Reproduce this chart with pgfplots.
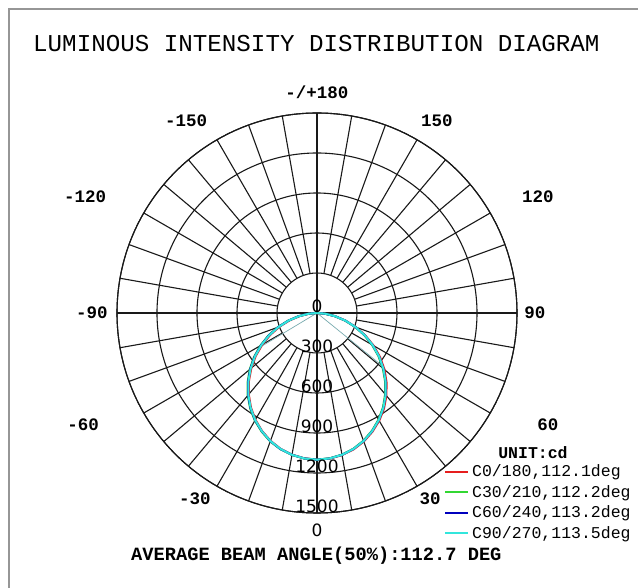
\documentclass[border=0pt]{standalone}
\usepackage{fontspec}
\setmainfont{Liberation Mono}
\setsansfont{DejaVu Sans}
\usepackage{pgfplots}
\usepgfplotslibrary{polar}
\pgfplotsset{compat=1.18}
\usepackage{pgfplotstable}
\definecolor{cR}{RGB}{230,30,30}
\definecolor{cG}{RGB}{50,215,50}
\definecolor{cB}{RGB}{0,0,190}
\definecolor{cC}{RGB}{50,230,220}
\definecolor{chord}{RGB}{120,170,175}
\definecolor{frame}{RGB}{150,150,150}

% gamma (deg, 0 = nadir)   intensity (cd)
\pgfplotstableread{
g I
-90 0
-85 56
-80 130
-75 212
-70 298
-65 386
-60 473
-55 560
-50 643
-45 722
-40 796
-35 864
-30 924
-25 976
-20 1020
-15 1055
-10 1079
-5 1094
0 1100
5 1096
10 1082
15 1059
20 1026
25 983
30 933
35 876
40 810
45 738
50 661
55 578
60 490
65 400
70 310
75 220
80 136
85 58
90 0
}\tCzero

\pgfplotstableread{
g I
-90 0
-85 63
-80 142
-75 226
-70 314
-65 403
-60 491
-55 577
-50 659
-45 736
-40 808
-35 874
-30 932
-25 982
-20 1025
-15 1058
-10 1081
-5 1096
0 1100
5 1094
10 1079
15 1054
20 1019
25 975
30 923
35 863
40 795
45 722
50 644
55 562
60 476
65 390
70 303
75 217
80 135
85 59
90 0
}\tCthirty

\pgfplotstableread{
g I
-90 0
-85 62
-80 140
-75 223
-70 311
-65 399
-60 486
-55 572
-50 654
-45 731
-40 804
-35 870
-30 929
-25 979
-20 1023
-15 1057
-10 1080
-5 1095
0 1100
5 1095
10 1080
15 1056
20 1022
25 978
30 927
35 868
40 801
45 728
50 650
55 568
60 482
65 395
70 307
75 220
80 137
85 60
90 0
}\tCsixty

\pgfplotstableread{
g I
-90 0
-85 60
-80 137
-75 220
-70 307
-65 395
-60 482
-55 568
-50 650
-45 728
-40 801
-35 868
-30 927
-25 978
-20 1022
-15 1056
-10 1080
-5 1095
0 1100
5 1095
10 1080
15 1056
20 1022
25 978
30 927
35 868
40 801
45 728
50 650
55 568
60 482
65 395
70 307
75 220
80 137
85 60
90 0
}\tCninety

\pgfplotstableread{
g I
-59 500
0 0
51 634
}\tChord

\begin{document}
\begin{tikzpicture}
\path[use as bounding box, fill=white] (0pt,0pt) rectangle (638pt,588pt);
\draw[frame, line width=1.5pt] (9pt,-2pt) -- (9pt,579pt) -- (642pt,579pt);
\node[anchor=base west, font=\fontsize{24.2}{28}\selectfont, inner sep=0pt] at (33pt,536pt) {LUMINOUS INTENSITY DISTRIBUTION DIAGRAM};

\begin{polaraxis}[
  at={(317pt,275pt)}, anchor=center,
  width=400pt, height=400pt, scale only axis,
  clip=false,
  xmin=0, xmax=360,
  ymin=0, ymax=1500,
  xtick={0,30,...,330},
  xticklabels={},
  ytick={300,600,...,1500},
  yticklabels={},
  ymajorgrids=true, xmajorgrids=false,
  major grid style={black!90, line width=1.1pt},
  axis line style={black!90, line width=1.1pt},
  major tick length=0pt,
  legend style={at={(axis description cs:0.81,0.128)}, anchor=north west,
    draw=none, fill=none, font=\fontsize{16.5}{18}\selectfont,
    row sep=5pt, nodes={inner sep=1pt}},
  legend cell align=left,
  legend image code/.code={\draw[#1, line width=2pt] (0pt,0pt) -- (23pt,0pt);},
]
\pgfplotsinvokeforeach{0,10,...,350}{
  \draw[black!90, line width=1.1pt] (axis cs:#1,300) -- (axis cs:#1,1500);
}
\draw[black!90, line width=1.1pt] (axis cs:0,1500) -- (axis cs:180,1500);
\draw[black!90, line width=1.1pt] (axis cs:90,1500) -- (axis cs:270,1500);

\addplot[chord, line width=0.7pt, forget plot] table[x expr=\thisrow{g}+270, y=I] {\tChord};
\addplot[cR, line width=2pt] table[x expr=\thisrow{g}+270, y=I] {\tCzero};
\addlegendentry{\hspace{2pt}C0/180,112.1deg}
\addplot[cG, line width=2pt] table[x expr=\thisrow{g}+270, y=I] {\tCthirty};
\addlegendentry{\hspace{2pt}C30/210,112.2deg}
\addplot[cB, line width=2pt] table[x expr=\thisrow{g}+270, y=I] {\tCsixty};
\addlegendentry{\hspace{2pt}C60/240,113.2deg}
\addplot[cC, line width=2pt] table[x expr=\thisrow{g}+270, y=I] {\tCninety};
\addlegendentry{\hspace{2pt}C90/270,113.5deg}

% radial (intensity) labels along the nadir direction
\pgfplotsinvokeforeach{0,300,600,900,1200,1500}{
  \node[font=\sffamily\fontsize{17}{18}\selectfont, anchor=south, inner sep=0.5pt] at (axis cs:270,#1) {#1};
}
% angular labels (gamma)
\begin{scope}[every node/.style={font=\bfseries\fontsize{17.5}{18}\selectfont, anchor=center, inner sep=0pt}]
\node at (axis cs:90,1657) {-/+180};
\node at (axis cs:58,1698) {150};
\node at (axis cs:27.7,1872) {120};
\node at (axis cs:0,1635) {90};
\node at (axis cs:334.1,1925) {60};
\node at (axis cs:301.3,1632) {30};
\node[font=\sffamily\fontsize{17}{18}\selectfont] at (axis cs:270,1628) {0};
\node at (axis cs:236.7,1668) {-30};
\node at (axis cs:205.6,1946) {-60};
\node at (axis cs:180,1688) {-90};
\node at (axis cs:153.4,1945) {-120};
\node at (axis cs:124.3,1743) {-150};
\end{scope}
\end{polaraxis}

\node[anchor=center, font=\bfseries\fontsize{16.5}{18}\selectfont, inner sep=0pt] at (533pt,135pt) {UNIT:cd};
\node[anchor=base west, font=\bfseries\fontsize{18.7}{20}\selectfont, inner sep=0pt] at (131pt,27pt) {AVERAGE BEAM ANGLE(50\%):112.7 DEG};
\end{tikzpicture}
\end{document}
